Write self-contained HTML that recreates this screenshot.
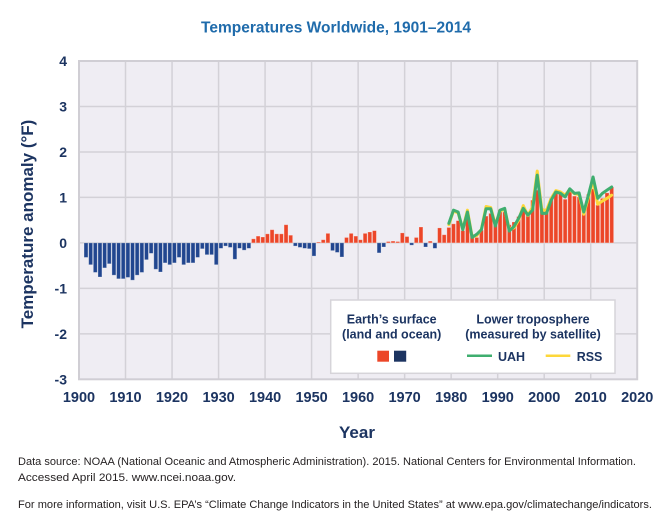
<!DOCTYPE html>
<html>
<head>
<meta charset="utf-8">
<style>
html,body{margin:0;padding:0;background:#fff;}
svg{display:block;}
text{font-family:"Liberation Sans",Arial,sans-serif;}
</style>
</head>
<body>
<svg width="670" height="526" viewBox="0 0 670 526" xmlns="http://www.w3.org/2000/svg">
<rect x="0" y="0" width="670" height="526" fill="#ffffff"/>
<text x="336" y="32.5" text-anchor="middle" font-size="15.5" font-weight="bold" fill="#1f6bab">Temperatures Worldwide, 1901–2014</text>

<!-- plot area -->
<rect x="79" y="61" width="558.2" height="318.3" fill="#efedf3"/>
<g stroke="#d3d1d7" stroke-width="1.5">
<line x1="125.52" y1="61" x2="125.52" y2="379.3"/>
<line x1="172.04" y1="61" x2="172.04" y2="379.3"/>
<line x1="218.56" y1="61" x2="218.56" y2="379.3"/>
<line x1="265.08" y1="61" x2="265.08" y2="379.3"/>
<line x1="311.6" y1="61" x2="311.6" y2="379.3"/>
<line x1="358.12" y1="61" x2="358.12" y2="379.3"/>
<line x1="404.64" y1="61" x2="404.64" y2="379.3"/>
<line x1="451.16" y1="61" x2="451.16" y2="379.3"/>
<line x1="497.68" y1="61" x2="497.68" y2="379.3"/>
<line x1="544.2" y1="61" x2="544.2" y2="379.3"/>
<line x1="590.72" y1="61" x2="590.72" y2="379.3"/>
<line x1="79" y1="106.49" x2="637.2" y2="106.49"/>
<line x1="79" y1="151.96" x2="637.2" y2="151.96"/>
<line x1="79" y1="197.43" x2="637.2" y2="197.43"/>
<line x1="79" y1="242.9" x2="637.2" y2="242.9"/>
<line x1="79" y1="288.37" x2="637.2" y2="288.37"/>
<line x1="79" y1="333.84" x2="637.2" y2="333.84"/>
</g>
<rect x="79" y="61" width="558.2" height="318.3" fill="none" stroke="#d0ced4" stroke-width="2"/>

<!-- bars in data coords: x = year-1900, y = degF -->
<g transform="translate(79,242.9) scale(4.652,-45.47)">
<g fill="#21468f" stroke="#ffffff" stroke-opacity="0.35" stroke-width="0.8" vector-effect="non-scaling-stroke">
<rect x="1.08" y="-0.32" width="0.85" height="0.32" vector-effect="non-scaling-stroke"/>
<rect x="2.08" y="-0.48" width="0.85" height="0.48" vector-effect="non-scaling-stroke"/>
<rect x="3.08" y="-0.65" width="0.85" height="0.65" vector-effect="non-scaling-stroke"/>
<rect x="4.08" y="-0.75" width="0.85" height="0.75" vector-effect="non-scaling-stroke"/>
<rect x="5.08" y="-0.55" width="0.85" height="0.55" vector-effect="non-scaling-stroke"/>
<rect x="6.08" y="-0.46" width="0.85" height="0.46" vector-effect="non-scaling-stroke"/>
<rect x="7.08" y="-0.71" width="0.85" height="0.71" vector-effect="non-scaling-stroke"/>
<rect x="8.08" y="-0.79" width="0.85" height="0.79" vector-effect="non-scaling-stroke"/>
<rect x="9.08" y="-0.79" width="0.85" height="0.79" vector-effect="non-scaling-stroke"/>
<rect x="10.08" y="-0.76" width="0.85" height="0.76" vector-effect="non-scaling-stroke"/>
<rect x="11.08" y="-0.82" width="0.85" height="0.82" vector-effect="non-scaling-stroke"/>
<rect x="12.08" y="-0.71" width="0.85" height="0.71" vector-effect="non-scaling-stroke"/>
<rect x="13.08" y="-0.65" width="0.85" height="0.65" vector-effect="non-scaling-stroke"/>
<rect x="14.08" y="-0.37" width="0.85" height="0.37" vector-effect="non-scaling-stroke"/>
<rect x="15.08" y="-0.23" width="0.85" height="0.23" vector-effect="non-scaling-stroke"/>
<rect x="16.08" y="-0.58" width="0.85" height="0.58" vector-effect="non-scaling-stroke"/>
<rect x="17.08" y="-0.64" width="0.85" height="0.64" vector-effect="non-scaling-stroke"/>
<rect x="18.08" y="-0.44" width="0.85" height="0.44" vector-effect="non-scaling-stroke"/>
<rect x="19.08" y="-0.48" width="0.85" height="0.48" vector-effect="non-scaling-stroke"/>
<rect x="20.08" y="-0.44" width="0.85" height="0.44" vector-effect="non-scaling-stroke"/>
<rect x="21.08" y="-0.32" width="0.85" height="0.32" vector-effect="non-scaling-stroke"/>
<rect x="22.08" y="-0.48" width="0.85" height="0.48" vector-effect="non-scaling-stroke"/>
<rect x="23.08" y="-0.44" width="0.85" height="0.44" vector-effect="non-scaling-stroke"/>
<rect x="24.08" y="-0.44" width="0.85" height="0.44" vector-effect="non-scaling-stroke"/>
<rect x="25.08" y="-0.32" width="0.85" height="0.32" vector-effect="non-scaling-stroke"/>
<rect x="26.08" y="-0.13" width="0.85" height="0.13" vector-effect="non-scaling-stroke"/>
<rect x="27.08" y="-0.26" width="0.85" height="0.26" vector-effect="non-scaling-stroke"/>
<rect x="28.08" y="-0.26" width="0.85" height="0.26" vector-effect="non-scaling-stroke"/>
<rect x="29.08" y="-0.48" width="0.85" height="0.48" vector-effect="non-scaling-stroke"/>
<rect x="30.08" y="-0.12" width="0.85" height="0.12" vector-effect="non-scaling-stroke"/>
<rect x="31.08" y="-0.07" width="0.85" height="0.07" vector-effect="non-scaling-stroke"/>
<rect x="32.08" y="-0.10" width="0.85" height="0.10" vector-effect="non-scaling-stroke"/>
<rect x="33.08" y="-0.36" width="0.85" height="0.36" vector-effect="non-scaling-stroke"/>
<rect x="34.08" y="-0.12" width="0.85" height="0.12" vector-effect="non-scaling-stroke"/>
<rect x="35.08" y="-0.16" width="0.85" height="0.16" vector-effect="non-scaling-stroke"/>
<rect x="36.08" y="-0.12" width="0.85" height="0.12" vector-effect="non-scaling-stroke"/>
<rect x="46.08" y="-0.07" width="0.85" height="0.07" vector-effect="non-scaling-stroke"/>
<rect x="47.08" y="-0.10" width="0.85" height="0.10" vector-effect="non-scaling-stroke"/>
<rect x="48.08" y="-0.12" width="0.85" height="0.12" vector-effect="non-scaling-stroke"/>
<rect x="49.08" y="-0.13" width="0.85" height="0.13" vector-effect="non-scaling-stroke"/>
<rect x="50.08" y="-0.29" width="0.85" height="0.29" vector-effect="non-scaling-stroke"/>
<rect x="54.08" y="-0.17" width="0.85" height="0.17" vector-effect="non-scaling-stroke"/>
<rect x="55.08" y="-0.21" width="0.85" height="0.21" vector-effect="non-scaling-stroke"/>
<rect x="56.08" y="-0.31" width="0.85" height="0.31" vector-effect="non-scaling-stroke"/>
<rect x="64.08" y="-0.22" width="0.85" height="0.22" vector-effect="non-scaling-stroke"/>
<rect x="65.08" y="-0.09" width="0.85" height="0.09" vector-effect="non-scaling-stroke"/>
<rect x="71.08" y="-0.05" width="0.85" height="0.05" vector-effect="non-scaling-stroke"/>
<rect x="74.08" y="-0.09" width="0.85" height="0.09" vector-effect="non-scaling-stroke"/>
<rect x="76.08" y="-0.12" width="0.85" height="0.12" vector-effect="non-scaling-stroke"/>
</g>
<g fill="#ec4628" stroke="#ffffff" stroke-opacity="0.35" stroke-width="0.8">
<rect x="37.08" y="0" width="0.85" height="0.09" vector-effect="non-scaling-stroke"/>
<rect x="38.08" y="0" width="0.85" height="0.15" vector-effect="non-scaling-stroke"/>
<rect x="39.08" y="0" width="0.85" height="0.13" vector-effect="non-scaling-stroke"/>
<rect x="40.08" y="0" width="0.85" height="0.20" vector-effect="non-scaling-stroke"/>
<rect x="41.08" y="0" width="0.85" height="0.29" vector-effect="non-scaling-stroke"/>
<rect x="42.08" y="0" width="0.85" height="0.20" vector-effect="non-scaling-stroke"/>
<rect x="43.08" y="0" width="0.85" height="0.20" vector-effect="non-scaling-stroke"/>
<rect x="44.08" y="0" width="0.85" height="0.40" vector-effect="non-scaling-stroke"/>
<rect x="45.08" y="0" width="0.85" height="0.17" vector-effect="non-scaling-stroke"/>
<rect x="51.08" y="0" width="0.85" height="0.02" vector-effect="non-scaling-stroke"/>
<rect x="52.08" y="0" width="0.85" height="0.07" vector-effect="non-scaling-stroke"/>
<rect x="53.08" y="0" width="0.85" height="0.21" vector-effect="non-scaling-stroke"/>
<rect x="57.08" y="0" width="0.85" height="0.12" vector-effect="non-scaling-stroke"/>
<rect x="58.08" y="0" width="0.85" height="0.21" vector-effect="non-scaling-stroke"/>
<rect x="59.08" y="0" width="0.85" height="0.15" vector-effect="non-scaling-stroke"/>
<rect x="60.08" y="0" width="0.85" height="0.07" vector-effect="non-scaling-stroke"/>
<rect x="61.08" y="0" width="0.85" height="0.21" vector-effect="non-scaling-stroke"/>
<rect x="62.08" y="0" width="0.85" height="0.24" vector-effect="non-scaling-stroke"/>
<rect x="63.08" y="0" width="0.85" height="0.27" vector-effect="non-scaling-stroke"/>
<rect x="66.08" y="0" width="0.85" height="0.03" vector-effect="non-scaling-stroke"/>
<rect x="67.08" y="0" width="0.85" height="0.04" vector-effect="non-scaling-stroke"/>
<rect x="68.08" y="0" width="0.85" height="0.03" vector-effect="non-scaling-stroke"/>
<rect x="69.08" y="0" width="0.85" height="0.22" vector-effect="non-scaling-stroke"/>
<rect x="70.08" y="0" width="0.85" height="0.14" vector-effect="non-scaling-stroke"/>
<rect x="72.08" y="0" width="0.85" height="0.12" vector-effect="non-scaling-stroke"/>
<rect x="73.08" y="0" width="0.85" height="0.35" vector-effect="non-scaling-stroke"/>
<rect x="75.08" y="0" width="0.85" height="0.04" vector-effect="non-scaling-stroke"/>
<rect x="77.08" y="0" width="0.85" height="0.33" vector-effect="non-scaling-stroke"/>
<rect x="78.08" y="0" width="0.85" height="0.18" vector-effect="non-scaling-stroke"/>
<rect x="79.08" y="0" width="0.85" height="0.34" vector-effect="non-scaling-stroke"/>
<rect x="80.08" y="0" width="0.85" height="0.42" vector-effect="non-scaling-stroke"/>
<rect x="81.08" y="0" width="0.85" height="0.49" vector-effect="non-scaling-stroke"/>
<rect x="82.08" y="0" width="0.85" height="0.27" vector-effect="non-scaling-stroke"/>
<rect x="83.08" y="0" width="0.85" height="0.63" vector-effect="non-scaling-stroke"/>
<rect x="84.08" y="0" width="0.85" height="0.19" vector-effect="non-scaling-stroke"/>
<rect x="85.08" y="0" width="0.85" height="0.12" vector-effect="non-scaling-stroke"/>
<rect x="86.08" y="0" width="0.85" height="0.28" vector-effect="non-scaling-stroke"/>
<rect x="87.08" y="0" width="0.85" height="0.59" vector-effect="non-scaling-stroke"/>
<rect x="88.08" y="0" width="0.85" height="0.65" vector-effect="non-scaling-stroke"/>
<rect x="89.08" y="0" width="0.85" height="0.39" vector-effect="non-scaling-stroke"/>
<rect x="90.08" y="0" width="0.85" height="0.73" vector-effect="non-scaling-stroke"/>
<rect x="91.08" y="0" width="0.85" height="0.68" vector-effect="non-scaling-stroke"/>
<rect x="92.08" y="0" width="0.85" height="0.40" vector-effect="non-scaling-stroke"/>
<rect x="93.08" y="0" width="0.85" height="0.46" vector-effect="non-scaling-stroke"/>
<rect x="94.08" y="0" width="0.85" height="0.58" vector-effect="non-scaling-stroke"/>
<rect x="95.08" y="0" width="0.85" height="0.79" vector-effect="non-scaling-stroke"/>
<rect x="96.08" y="0" width="0.85" height="0.66" vector-effect="non-scaling-stroke"/>
<rect x="97.08" y="0" width="0.85" height="0.94" vector-effect="non-scaling-stroke"/>
<rect x="98.08" y="0" width="0.85" height="1.16" vector-effect="non-scaling-stroke"/>
<rect x="99.08" y="0" width="0.85" height="0.76" vector-effect="non-scaling-stroke"/>
<rect x="100.08" y="0" width="0.85" height="0.70" vector-effect="non-scaling-stroke"/>
<rect x="101.08" y="0" width="0.85" height="0.98" vector-effect="non-scaling-stroke"/>
<rect x="102.08" y="0" width="0.85" height="1.12" vector-effect="non-scaling-stroke"/>
<rect x="103.08" y="0" width="0.85" height="1.09" vector-effect="non-scaling-stroke"/>
<rect x="104.08" y="0" width="0.85" height="0.96" vector-effect="non-scaling-stroke"/>
<rect x="105.08" y="0" width="0.85" height="1.12" vector-effect="non-scaling-stroke"/>
<rect x="106.08" y="0" width="0.85" height="1.03" vector-effect="non-scaling-stroke"/>
<rect x="107.08" y="0" width="0.85" height="1.01" vector-effect="non-scaling-stroke"/>
<rect x="108.08" y="0" width="0.85" height="0.70" vector-effect="non-scaling-stroke"/>
<rect x="109.08" y="0" width="0.85" height="1.07" vector-effect="non-scaling-stroke"/>
<rect x="110.08" y="0" width="0.85" height="1.19" vector-effect="non-scaling-stroke"/>
<rect x="111.08" y="0" width="0.85" height="0.83" vector-effect="non-scaling-stroke"/>
<rect x="112.08" y="0" width="0.85" height="0.98" vector-effect="non-scaling-stroke"/>
<rect x="113.08" y="0" width="0.85" height="1.10" vector-effect="non-scaling-stroke"/>
<rect x="114.08" y="0" width="0.85" height="1.23" vector-effect="non-scaling-stroke"/>
</g>
<!-- RSS -->
<polyline fill="none" stroke="#fdd73a" stroke-width="3" stroke-linejoin="round" stroke-linecap="round" vector-effect="non-scaling-stroke"
points="79.5,0.40 80.5,0.70 81.5,0.66 82.5,0.30 83.5,0.72 84.5,0.14 85.5,0.16 86.5,0.30 87.5,0.80 88.5,0.78 89.5,0.40 90.5,0.70 91.5,0.74 92.5,0.30 93.5,0.33 94.5,0.50 95.5,0.82 96.5,0.60 97.5,0.80 98.5,1.58 99.5,0.72 100.5,0.72 101.5,0.98 102.5,1.15 103.5,1.12 104.5,1.05 105.5,1.18 106.5,1.08 107.5,1.06 108.5,0.63 109.5,1.00 110.5,1.38 111.5,0.85 112.5,0.92 113.5,0.98 114.5,1.05"/>
<!-- UAH -->
<polyline fill="none" stroke="#3fae6f" stroke-width="3" stroke-linejoin="round" stroke-linecap="round" vector-effect="non-scaling-stroke"
points="79.5,0.43 80.5,0.72 81.5,0.68 82.5,0.29 83.5,0.68 84.5,0.12 85.5,0.19 86.5,0.29 87.5,0.75 88.5,0.75 89.5,0.37 90.5,0.72 91.5,0.76 92.5,0.26 93.5,0.36 94.5,0.54 95.5,0.76 96.5,0.61 97.5,0.72 98.5,1.49 99.5,0.65 100.5,0.65 101.5,0.94 102.5,1.12 103.5,1.09 104.5,1.01 105.5,1.19 106.5,1.09 107.5,1.10 108.5,0.68 109.5,1.05 110.5,1.45 111.5,0.98 112.5,1.09 113.5,1.16 114.5,1.23"/>
</g>

<!-- legend -->
<rect x="330.7" y="300" width="284.3" height="73.3" fill="#ffffff" stroke="#d6d4d9" stroke-width="1.5"/>
<g font-weight="bold" fill="#1c3461" font-size="12.5" text-anchor="middle">
<text x="391.7" y="323.3">Earth’s surface</text>
<text x="391.7" y="338.3">(land and ocean)</text>
<text x="533" y="323.3">Lower troposphere</text>
<text x="533" y="338.3">(measured by satellite)</text>
</g>
<rect x="377.3" y="350.7" width="11.7" height="11" fill="#ec4628"/>
<rect x="394" y="350.7" width="12.2" height="11" fill="#1c3461"/>
<line x1="467" y1="355.8" x2="492" y2="355.8" stroke="#3fae6f" stroke-width="2.5"/>
<line x1="545.7" y1="355.8" x2="570.3" y2="355.8" stroke="#fdd73a" stroke-width="2.5"/>
<g font-weight="bold" fill="#1c3461" font-size="12.5">
<text x="498" y="361">UAH</text>
<text x="576.7" y="361">RSS</text>
</g>

<!-- y ticks -->
<g font-weight="bold" fill="#1c3461" font-size="14" text-anchor="end">
<text x="67" y="66">4</text>
<text x="67" y="111.5">3</text>
<text x="67" y="157">2</text>
<text x="67" y="202.4">1</text>
<text x="67" y="247.9">0</text>
<text x="67" y="293.4">-1</text>
<text x="67" y="338.8">-2</text>
<text x="67" y="384.3">-3</text>
</g>
<!-- x ticks -->
<g font-weight="bold" fill="#1c3461" font-size="14.5" text-anchor="middle">
<text x="79" y="402">1900</text>
<text x="125.5" y="402">1910</text>
<text x="172" y="402">1920</text>
<text x="218.6" y="402">1930</text>
<text x="265.1" y="402">1940</text>
<text x="311.6" y="402">1950</text>
<text x="358.1" y="402">1960</text>
<text x="404.6" y="402">1970</text>
<text x="451.2" y="402">1980</text>
<text x="497.7" y="402">1990</text>
<text x="544.2" y="402">2000</text>
<text x="590.7" y="402">2010</text>
<text x="637.2" y="402">2020</text>
</g>
<text x="357" y="438" text-anchor="middle" font-weight="bold" font-size="17" fill="#1c3461">Year</text>
<text transform="translate(33,224) rotate(-90)" text-anchor="middle" font-weight="bold" font-size="17" fill="#1c3461">Temperature anomaly (°F)</text>

<!-- footer -->
<g font-size="11" fill="#231f20">
<text x="18" y="465" textLength="618" lengthAdjust="spacingAndGlyphs">Data source: NOAA (National Oceanic and Atmospheric Administration). 2015. National Centers for Environmental Information.</text>
<text x="18" y="481" textLength="218" lengthAdjust="spacingAndGlyphs">Accessed April 2015. www.ncei.noaa.gov.</text>
<text x="18" y="508" textLength="634" lengthAdjust="spacingAndGlyphs">For more information, visit U.S. EPA’s “Climate Change Indicators in the United States” at www.epa.gov/climatechange/indicators.</text>
</g>
</svg>
</body>
</html>
